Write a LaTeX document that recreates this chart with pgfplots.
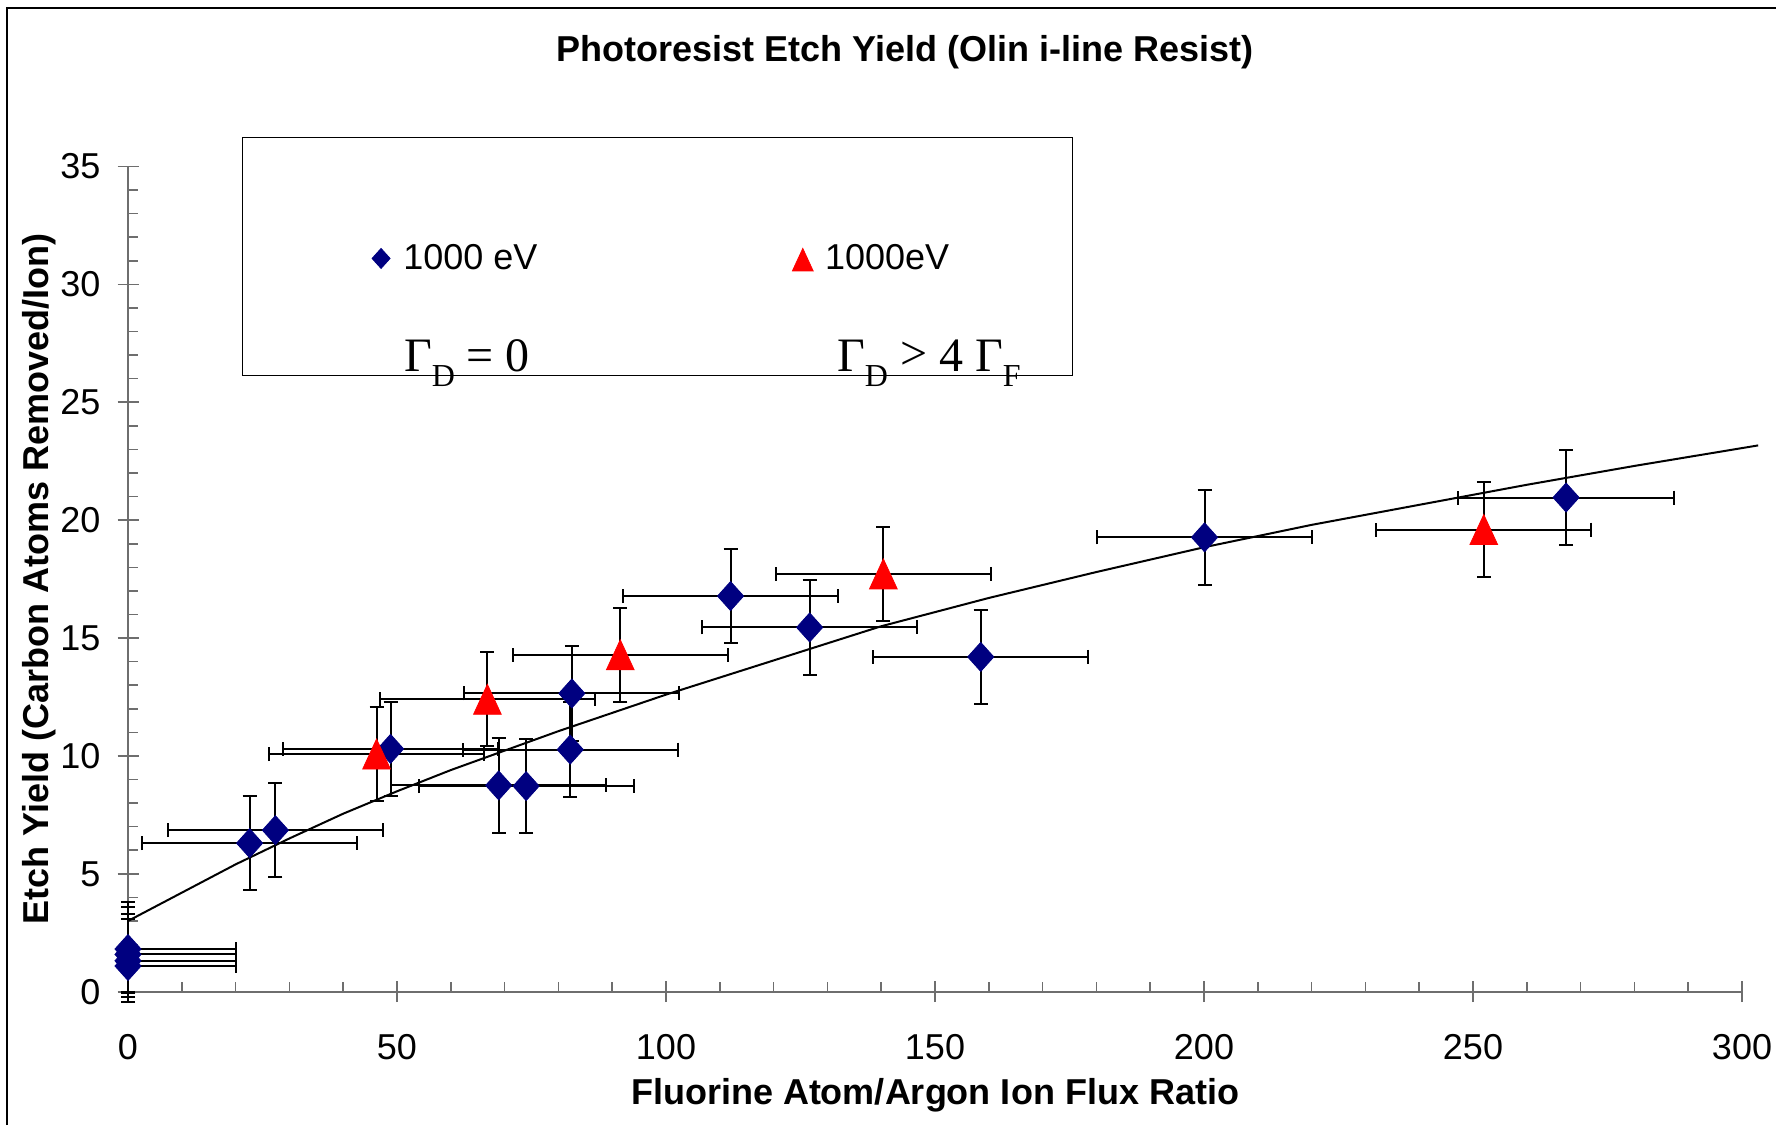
\documentclass[border=0pt]{standalone}
\usepackage{fontspec}
\setmainfont{Liberation Sans}
\newfontfamily\gfont{Liberation Serif}
\usepackage{pgfplots}
\usepackage{pgfplotstable}
\pgfplotsset{compat=1.18}

\definecolor{navy}{RGB}{0,0,128}
\definecolor{axgray}{RGB}{110,110,110}
\newcommand\fs{\fontsize{18}{21.6}\selectfont}

% 1000 eV, Gamma_D = 0
\pgfplotstableread{
x      y      xp   xm   yp   ym
0      1.81   20   0    2    1.81
0      1.58   20   0    2    1.65
0      1.31   20   0    2    1.55
0      1.09   20   0    2    1.51
22.6   6.30   20   20   2    2
27.4   6.85   20   20   2    2
48.8   10.30  20   20   2    2
68.9   8.75   20   20   2    2
74.0   8.72   20   20   2    2
82.5   12.65  20   20   2    2
82.2   10.27  20   20   2    2
112.0  16.78  20   20   2    2
126.7  15.45  20   20   2    2
158.5  14.20  20   20   2    2
200.1  19.27  20   20   2    2
267.3  20.96  20   20   2    2
}\ionblue

% 1000 eV, Gamma_D > 4 Gamma_F
\pgfplotstableread{
x      y      xp   xm   yp   ym
46.2   10.08  20   20   2    2
66.8   12.40  20   20   2    2
91.5   14.29  20   20   2    2
140.4  17.72  20   20   2    2
252.0  19.60  20   20   2    2
}\ionred

% fitted curve
\pgfplotstableread{
x     y
0     3.00
10    4.20
20    5.40
30    6.50
40    7.55
50    8.50
60    9.40
80    11.05
100   12.60
120   14.05
140   15.50
160   16.70
180   17.80
200   18.85
220   19.80
240   20.65
260   21.50
280   22.30
303   23.17
}\fitline

\begin{document}
\begin{tikzpicture}
\useasboundingbox (0,0) rectangle (888pt,562.5pt);
\draw[line width=1.25pt] (3.5pt,0) -- (3.5pt,558.5pt) -- (888pt,558.5pt);
\node[anchor=base, font=\fs\bfseries] at (452.5pt,531.5pt) {Photoresist Etch Yield (Olin i-line Resist)};
\begin{axis}[
  at={(64pt,66.65pt)}, anchor=south west,
  scale only axis, width=807pt, height=412.6pt,
  xmin=0, xmax=300, ymin=0, ymax=35,
  clip=false,
  axis x line*=bottom, axis y line*=left,
  axis line style={axgray, line width=1pt},
  xtick={0,50,...,300}, ytick={0,5,...,35},
  minor x tick num=4, minor y tick num=4,
  tick align=inside, major tick length=10.5pt, minor tick length=5pt,
  tick style={axgray, line width=0.8pt},
  every major x tick/.style={yshift=-5.25pt},
  every major y tick/.style={xshift=-5.25pt},
  tick label style={font=\fs},
  /pgf/number format/assume math mode=true,
  xticklabel style={yshift=-18pt},
  yticklabel style={xshift=-10.3pt},
  xlabel={Fluorine Atom/Argon Ion Flux Ratio},
  ylabel={Etch Yield (Carbon Atoms Removed/Ion)},
  label style={font=\fs\bfseries},
  xlabel style={at={(axis description cs:0.5,-0.1361)}, anchor=base},
  ylabel style={at={(axis description cs:-0.0491,0.5)}, anchor=base},
  legend columns=2,
  legend cell align=left,
  legend image code/.code={\path[draw=none, fill=none] (0cm,0cm) (0.50cm,0cm);
    \draw[mark repeat=2,mark phase=2,#1] plot coordinates {(0cm,0cm) (0.18cm,0cm) (0.36cm,0cm)};},
  legend style={draw=none, fill=none, inner sep=0pt, font=\fs,
    at={(axis cs:45.06,31.1)}, anchor=west,
    /tikz/every even column/.append style={column sep=125.5pt}},
]
\addplot[black, line width=1pt, forget plot] table[x=x, y=y] {\fitline};

\addplot[only marks, mark=diamond*, mark size=7.25pt,
  mark options={fill=navy, draw=navy, xscale=1.2},
  legend image post style={mark size=5pt},
  error bars/.cd, x dir=both, x explicit, y dir=both, y explicit,
  error bar style={black, line width=1pt},
  error mark options={rotate=90, black, line width=1pt, mark size=3.5pt}]
  table[x=x, y=y, x error plus=xp, x error minus=xm, y error plus=yp, y error minus=ym] {\ionblue};
\addlegendentry{1000 eV}

\addplot[only marks, mark=triangle*, mark size=10pt,
  mark options={fill=red, draw=red, xscale=0.8, yshift=-2.5pt},
  legend image post style={mark size=7.5pt},
  error bars/.cd, x dir=both, x explicit, y dir=both, y explicit,
  error bar style={black, line width=1pt},
  error mark options={rotate=90, black, line width=1pt, mark size=3.5pt}]
  table[x=x, y=y, x error plus=xp, x error minus=xm, y error plus=yp, y error minus=ym] {\ionred};
\addlegendentry{1000eV}

\draw[line width=0.75pt] (axis cs:21.26,26.14) rectangle (axis cs:175.6,36.23);
\node[anchor=base west, font=\gfont\fontsize{24}{28}\selectfont] at (axis cs:50.0,26.29)
  {Γ\raisebox{-0.3em}{\fontsize{16}{16}\selectfont D} = 0};
\node[anchor=base west, font=\gfont\fontsize{24}{28}\selectfont] at (axis cs:130.5,26.29)
  {Γ\raisebox{-0.3em}{\fontsize{16}{16}\selectfont D} \raisebox{0.05em}{>} 4 Γ\raisebox{-0.3em}{\fontsize{16}{16}\selectfont F}};
\end{axis}
\end{tikzpicture}
\end{document}
